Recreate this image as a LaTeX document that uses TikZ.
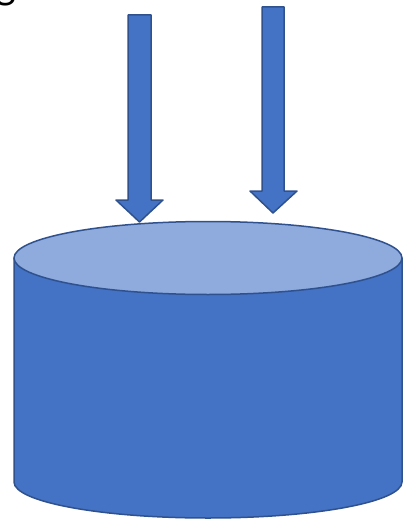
\documentclass[tikz,border=0pt]{standalone}
\usepackage{fontspec}
\newfontfamily\calfont{Carlito}
\definecolor{bodyblue}{HTML}{4472C4}
\definecolor{topblue}{HTML}{8FAADC}
\definecolor{edgeblue}{HTML}{2F528F}
\begin{document}
\begin{tikzpicture}[x=1pt,y=-1pt,
  blueshape/.style={fill=bodyblue,draw=edgeblue,line width=1.5pt,line join=round}]
\useasboundingbox (0,0) rectangle (403,519);
\node[anchor=south east,inner sep=0pt,font=\calfont\fontsize{44}{50}\selectfont] (g) at (16,6) {g};
% arrows
\draw[blueshape] (128,15) -- (151,15) -- (151,200) -- (163,200) -- (139.5,222) -- (116,200) -- (128,200) -- cycle;
\draw[blueshape] (262,7) -- (284,7) -- (284,191) -- (297,191) -- (273,213) -- (250,191) -- (262,191) -- cycle;
% cylinder
\draw[blueshape] (14,258) -- (14,482) arc[start angle=180,end angle=0,x radius=194,y radius=36] -- (402,258) -- cycle;
\draw[blueshape,fill=topblue] (208,258) ellipse[x radius=194,y radius=36.5];
\end{tikzpicture}
\end{document}
